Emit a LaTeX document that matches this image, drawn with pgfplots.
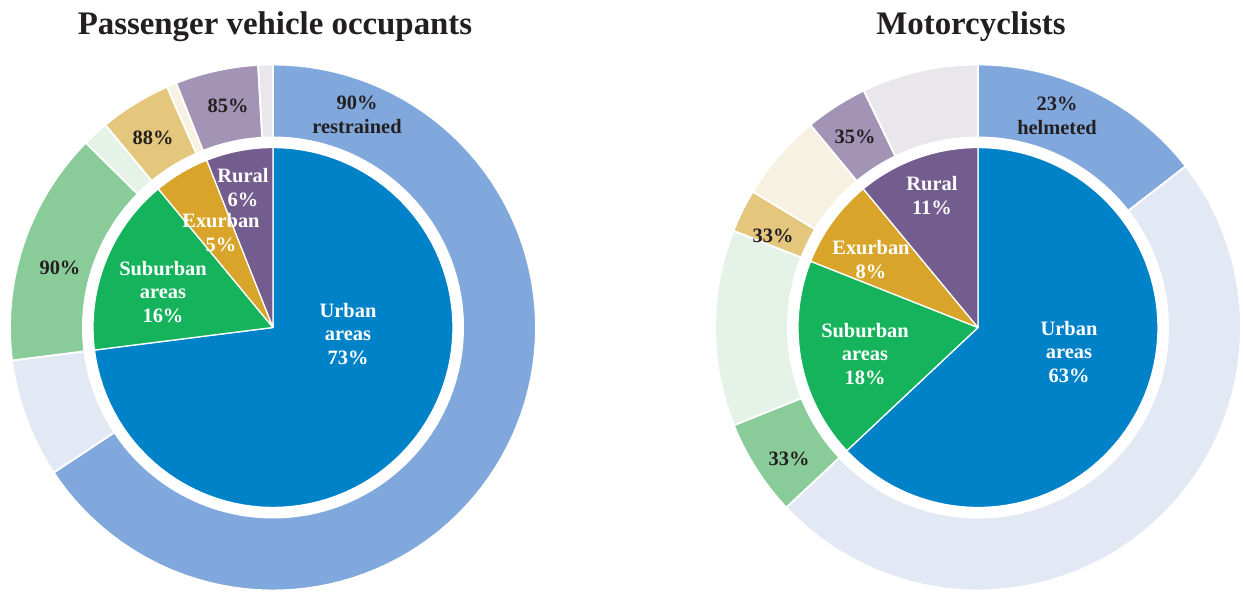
\documentclass[border=0pt]{standalone}
\usepackage{fontspec}
\setmainfont{Liberation Serif}
\usepackage{pgfplots}
\pgfplotsset{compat=1.18}
\definecolor{urbIn}{RGB}{0,130,200}
\definecolor{urbDark}{RGB}{128,168,220}
\definecolor{urbLight}{RGB}{227,232,245}
\definecolor{subIn}{RGB}{21,179,91}
\definecolor{subDark}{RGB}{138,203,154}
\definecolor{subLight}{RGB}{229,242,231}
\definecolor{exIn}{RGB}{216,165,42}
\definecolor{exDark}{RGB}{228,198,124}
\definecolor{exLight}{RGB}{246,241,224}
\definecolor{ruIn}{RGB}{115,92,142}
\definecolor{ruDark}{RGB}{163,148,182}
\definecolor{ruLight}{RGB}{233,230,236}
\definecolor{darktext}{RGB}{35,31,32}
% sector: cx cy R fromPct toPct color linewidth (percent of full circle, clockwise from 12 o'clock)
\newcommand{\sect}[7]{%
  \addplot[fill=#6, draw=white, line width=#7, line join=round, domain=90-3.6*(#5):90-3.6*(#4), samples=90, variable=\t, forget plot]
    ({#1+#3*cos(\t)},{#2+#3*sin(\t)}) -- (axis cs:#1,#2) -- cycle;}
% outer ring pair: cx cy start share pctDark darkcolor lightcolor
\newcommand{\ringpair}[7]{%
  \sect{#1}{#2}{263}{#3}{#3+#4*#5/100}{#6}{1.8bp}%
  \sect{#1}{#2}{263}{#3+#4*#5/100}{#3+#4}{#7}{1.8bp}}
\newcommand{\gapdisk}[2]{%
  \addplot[fill=white, draw=none, domain=0:360, samples=180, variable=\t, forget plot]
    ({#1+191*cos(\t)},{#2+191*sin(\t)}) -- cycle;}
\tikzset{lab/.style={font=\bfseries\fontsize{20.5}{24}\selectfont, align=center, inner sep=0pt},
         ttl/.style={font=\bfseries\fontsize{33}{38}\selectfont, anchor=base, text=darktext}}
\begin{document}
\begin{tikzpicture}
\useasboundingbox (0,0) rectangle (1243bp,594bp);
\begin{axis}[x=1bp, y=1bp, xmin=0, xmax=1243, ymin=0, ymax=594, hide axis, clip=false, anchor=origin, at={(0,0)}]
% ---------- Passenger vehicle occupants (shares: 73, 16, 5, 6; restrained: 90, 90, 88, 85)
\ringpair{273}{266.5}{0}{73}{90}{urbDark}{urbLight}
\ringpair{273}{266.5}{73}{16}{90}{subDark}{subLight}
\ringpair{273}{266.5}{89}{5}{88}{exDark}{exLight}
\ringpair{273}{266.5}{94}{6}{85}{ruDark}{ruLight}
\gapdisk{273}{266.5}
\sect{273}{266.5}{180}{0}{73}{urbIn}{1.3bp}
\sect{273}{266.5}{180}{73}{89}{subIn}{1.3bp}
\sect{273}{266.5}{180}{89}{94}{exIn}{1.3bp}
\sect{273}{266.5}{180}{94}{100}{ruIn}{1.3bp}
% ---------- Motorcyclists (shares: 63, 18, 8, 11; helmeted: 23, 33, 33, 35)
\ringpair{978}{266.5}{0}{63}{23}{urbDark}{urbLight}
\ringpair{978}{266.5}{63}{18}{33}{subDark}{subLight}
\ringpair{978}{266.5}{81}{8}{33}{exDark}{exLight}
\ringpair{978}{266.5}{89}{11}{35}{ruDark}{ruLight}
\gapdisk{978}{266.5}
\sect{978}{266.5}{180}{0}{63}{urbIn}{1.3bp}
\sect{978}{266.5}{180}{63}{81}{subIn}{1.3bp}
\sect{978}{266.5}{180}{81}{89}{exIn}{1.3bp}
\sect{978}{266.5}{180}{89}{100}{ruIn}{1.3bp}
% ---------- labels
\node[ttl] at (axis cs:275,559) {Passenger vehicle occupants};
\node[ttl] at (axis cs:971,559) {Motorcyclists};
\node[lab, text=darktext] at (axis cs:357,479) {90\%\\restrained};
\node[lab, text=darktext] at (axis cs:228,488) {85\%};
\node[lab, text=darktext] at (axis cs:153,456) {88\%};
\node[lab, text=darktext] at (axis cs:60,326) {90\%};
\node[lab, text=white] at (axis cs:243,406) {Rural\\6\%};
\node[lab, text=white] at (axis cs:221,361) {Exurban\\5\%};
\node[lab, text=white] at (axis cs:163,302) {Suburban\\areas\\16\%};
\node[lab, text=white] at (axis cs:348,260) {Urban\\areas\\73\%};
\node[lab, text=darktext] at (axis cs:1057,478) {23\%\\helmeted};
\node[lab, text=darktext] at (axis cs:855,457) {35\%};
\node[lab, text=darktext] at (axis cs:773,358) {33\%};
\node[lab, text=darktext] at (axis cs:789,135) {33\%};
\node[lab, text=white] at (axis cs:932,398) {Rural\\11\%};
\node[lab, text=white] at (axis cs:871,334.5) {Exurban\\8\%};
\node[lab, text=white] at (axis cs:865,240) {Suburban\\areas\\18\%};
\node[lab, text=white] at (axis cs:1069,242) {Urban\\areas\\63\%};
\end{axis}
\end{tikzpicture}
\end{document}
